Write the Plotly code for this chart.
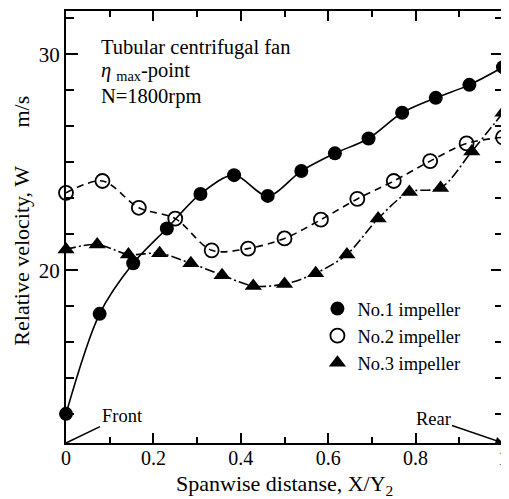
import plotly.graph_objects as go

# ---- data ----
x_no1 = [0, 1/13, 2/13, 3/13, 4/13, 5/13, 6/13, 7/13, 8/13, 9/13, 10/13, 11/13, 12/13, 1]
w_no1 = [13.35, 17.98, 20.32, 21.93, 23.53, 24.40, 23.44, 24.59, 25.41, 26.10, 27.29, 27.98, 28.58, 29.40]

x_no2 = [0, 1/12, 2/12, 3/12, 4/12, 5/12, 6/12, 7/12, 8/12, 9/12, 10/12, 11/12, 1]
w_no2 = [23.58, 24.13, 22.89, 22.39, 20.92, 21.00, 21.47, 22.34, 23.30, 24.13, 25.05, 25.87, 26.15]

x_no3 = [0, 1/14, 2/14, 3/14, 4/14, 5/14, 6/14, 7/14, 8/14, 9/14, 10/14, 11/14, 12/14, 13/14, 1]
w_no3 = [20.96, 21.19, 20.73, 20.78, 20.32, 19.77, 19.27, 19.36, 19.86, 20.73, 22.39, 23.62, 23.81, 25.50, 27.29]

series_names = ["No.1 impeller", "No.2 impeller", "No.3 impeller"]
x_tick_vals = [0, 0.2, 0.4, 0.6, 0.8, 1]
x_tick_text = ["0", "0.2", "0.4", "0.6", "0.8", "1"]
y_tick_vals = [20, 30]
y_tick_text = ["20", "30"]

FONT = "Liberation Serif"

fig = go.Figure()

series = [
    (x_no1, w_no1, series_names[0], "solid", dict(symbol="circle", color="black", size=14)),
    (x_no2, w_no2, series_names[1], "7px,5px",
     dict(symbol="circle-open", color="black", size=14, line=dict(width=1.8, color="black"))),
    (x_no3, w_no3, series_names[2], "10px,3px,2px,3px", dict(symbol="triangle-up", color="black", size=15)),
]

for i, (xs, ys, name, dash, mk) in enumerate(series):
    fig.add_trace(go.Scatter(
        x=xs, y=ys, mode="lines", line=dict(color="black", width=1.6, dash=dash, shape="spline", smoothing=0.9),
        showlegend=False, hoverinfo="skip", cliponaxis=False))
for i, (xs, ys, name, dash, mk) in enumerate(series):
    fig.add_trace(go.Scatter(
        x=xs, y=ys, mode="markers", marker=mk, name=name, legendgroup=f"g{i}",
        cliponaxis=False))

axis_common = dict(
    showline=True, linecolor="black", linewidth=2, mirror="allticks",
    showgrid=False, zeroline=False, ticks="inside", tickcolor="black", tickwidth=1.5,
    ticklabeloverflow="allow",
)

fig.update_xaxes(
    range=[0, 1], tickmode="array", tickvals=x_tick_vals, ticktext=x_tick_text, ticklen=10,
    tickfont=dict(family=FONT, size=20, color="black"), ticklabelstandoff=-4,
    minor=dict(ticks="inside", dtick=0.1, tick0=0, ticklen=6, tickwidth=1.5, tickcolor="black"),
    **axis_common)
fig.update_yaxes(
    range=[12, 32], tickmode="array", tickvals=y_tick_vals, ticktext=y_tick_text, ticklen=12,
    tickfont=dict(family=FONT, size=21, color="black"),
    ticklabelstandoff=0,
    minor=dict(ticks="inside", dtick=10/6, tick0=20, ticklen=8, tickwidth=1.5, tickcolor="black"),
    **axis_common)

annots = [
    dict(text="Tubular centrifugal fan", x=(99-66)/438, y=(443-45)/435, xanchor="left", yanchor="middle",
         font=dict(size=20.5)),
    dict(text="<i>η</i> <sub>max</sub>-point", x=(99-66)/438, y=(443-69)/435, xanchor="left", yanchor="middle",
         font=dict(size=20.5)),
    dict(text="N=1800rpm", x=(99-66)/438, y=(443-94)/435, xanchor="left", yanchor="middle",
         font=dict(size=20.5)),
    dict(text="Spanwise distanse, X/Y<sub>2</sub>", x=0.5, y=(443-485)/435, xanchor="center", yanchor="middle",
         font=dict(size=22)),
    dict(text="Relative velocity, W" + "\u00a0" * 7 + "m/s", x=(21-66)/438, y=(443-219)/435,
         xanchor="center", yanchor="middle", textangle=-90, font=dict(size=22)),
]
for a in annots:
    a.update(xref="paper", yref="paper", showarrow=False)
    a["font"].update(family=FONT, color="black")
    fig.add_annotation(**a)

fig.add_annotation(x=0, y=12, xref="x", yref="y", text="Front", showarrow=True, arrowhead=0,
                   arrowwidth=1.5, arrowcolor="black", ax=56, ay=-27, xanchor="center",
                   font=dict(family=FONT, size=18.5, color="black"))
fig.add_annotation(x=1, y=12, xref="x", yref="y", text="Rear", showarrow=True, arrowhead=2,
                   arrowsize=1, arrowwidth=1.5, arrowcolor="black", ax=-70, ay=-24,
                   font=dict(family=FONT, size=18.5, color="black"))

# page has an 8px body margin: figure is drawn at (8,8) in the window
fig.update_layout(
    width=501, height=491,
    margin=dict(l=58, r=5, t=1, b=56),
    paper_bgcolor="white", plot_bgcolor="white",
    font=dict(family=FONT, color="black"),
    legend=dict(x=(318-66)/438, y=(443-289)/435, xanchor="left", yanchor="top",
                font=dict(family=FONT, size=18.5, color="black"), tracegroupgap=0,
                bgcolor="rgba(0,0,0,0)"),
)

fig.write_html("out.html")
